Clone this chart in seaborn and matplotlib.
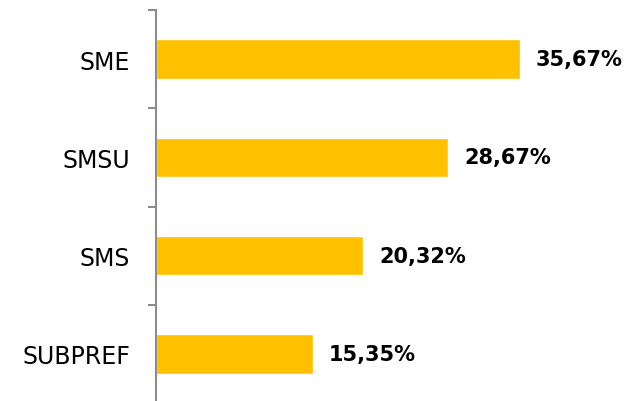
import matplotlib
matplotlib.use('Agg')
import matplotlib.pyplot as plt
import numpy as np
import pandas as pd
import seaborn as sns

# 数据
categorias = ['SME', 'SMSU', 'SMS', 'SUBPREF']
valores = [35.67, 28.67, 20.32, 15.35]
rotulos = ['35,67%', '28,67%', '20,32%', '15,35%']

df = pd.DataFrame({'categoria': categorias, 'valor': valores})

sns.set_style('white')
plt.rcParams['font.family'] = ['DejaVu Sans']

fig = plt.figure(figsize=(6.26, 4.02), dpi=100)
ax = fig.add_axes([156 / 626, -2 / 402, 470 / 626, 393 / 402])

sns.barplot(data=df, x='valor', y='categoria', color='#FFC000', width=0.4,
            saturation=1, orient='h', ax=ax)

ax.set_xlim(0, 46.08)
ax.set_ylim(3.5, -0.5)

# 只保留左侧轴线
for lado in ['top', 'right', 'bottom']:
    ax.spines[lado].set_visible(False)
ax.spines['left'].set_color('#8c8c8c')
ax.spines['left'].set_linewidth(1.5)

ax.set_xticks([])
ax.set_xlabel('')
ax.set_ylabel('')
ax.tick_params(axis='y', which='major', left=False, length=0, pad=18.5,
               labelsize=17, labelcolor='black')
ax.set_yticks(np.arange(-0.5, 4, 1), minor=True)
ax.tick_params(axis='y', which='minor', left=True, length=6, width=1.5,
               color='#8c8c8c')

ax.bar_label(ax.containers[0], labels=rotulos, padding=11.5,
             fontsize=15, fontweight='bold', color='black')

fig.savefig('out.png', dpi=100)
